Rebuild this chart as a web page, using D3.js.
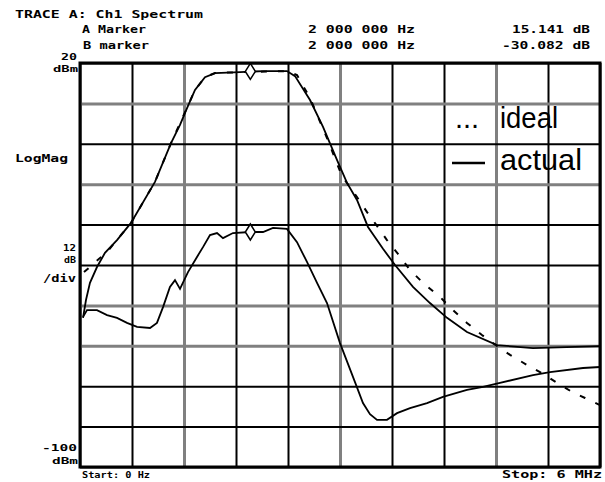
<!DOCTYPE html>
<html>
<head>
<meta charset="utf-8">
<script src="https://cdn.jsdelivr.net/npm/d3@7"></script>
<style>
  html, body { margin: 0; padding: 0; background: #fff; }
  svg { display: block; }
  .hdr { font-family: "DejaVu Sans Mono", monospace; font-weight: bold; font-size: 11px; fill: #000; }
  .sm { font-size: 9px; }
  .leg { font-family: "Liberation Sans", Arial, sans-serif; font-size: 29px; fill: #000; }
</style>
</head>
<body>
<script>
// ---- data (frequency in MHz, level in dBm) ----
const freqStart = 0, freqStop = 6;
const levelTop = 20, levelBottom = -100, dbPerDiv = 12;
const xTicks = [0, 0.6, 1.2, 1.8, 2.4, 3.0, 3.6, 4.2, 4.8, 5.4, 6.0];
const yTicks = [20, 8, -4, -16, -28, -40, -52, -64, -76, -88, -100];
const grayX = [1.2, 3.0, 4.8];
const grayY = [8, -16, -52, -64];

const actualA = [
  [0.035,-55.7],[0.069,-50.4],[0.115,-45.3],[0.196,-40.6],[0.288,-36.4],[0.427,-32.6],
  [0.588,-27.5],[0.865,-15.3],[1.050,-3.8],[1.154,1.6],[1.235,6.6],[1.327,12.0],
  [1.442,15.8],[1.558,17.0],[1.846,17.3],[2.112,17.6],[2.388,17.6],[2.481,16.1],
  [2.654,9.0],[2.804,1.0],[2.965,-8.8],[3.081,-15.6],[3.196,-20.7],[3.323,-28.7],
  [3.496,-35.2],[3.635,-40.0],[3.842,-46.5],[4.038,-51.3],[4.235,-55.7],[4.465,-59.9],
  [4.812,-63.8],[5.227,-64.7],[6.0,-64.1]
];
const idealA = [
  [0.046,-42.1],[0.127,-40.3],[0.323,-35.8],[0.588,-27.5],[0.865,-15.3],[1.050,-3.8],
  [1.212,5.4],[1.327,12.0],[1.442,15.8],[1.558,17.0],[1.846,17.3],[2.388,17.6],
  [2.504,16.4],[2.654,9.6],[2.850,-2.3],[3.023,-13.6],[3.196,-19.8],[3.312,-24.3],
  [3.427,-28.4],[3.542,-32.6],[3.669,-36.7],[3.808,-41.5],[3.958,-45.3],[4.154,-49.5],
  [4.304,-53.4],[4.465,-57.2],[4.638,-60.8],[4.765,-63.2],[4.962,-66.7],[5.158,-69.7],
  [5.308,-71.8],[5.504,-75.0],[5.677,-77.7],[5.827,-79.5],[6.0,-81.6]
];
const actualB = [
  [0.035,-55.4],[0.081,-53.4],[0.196,-53.4],[0.312,-54.9],[0.427,-55.7],[0.542,-57.2],
  [0.658,-58.4],[0.808,-58.7],[0.888,-57.2],[0.958,-52.5],[1.038,-46.5],[1.096,-44.5],
  [1.154,-47.1],[1.246,-42.1],[1.350,-37.6],[1.419,-34.7],[1.5,-31.1],[1.581,-30.5],
  [1.650,-32.0],[1.765,-30.5],[1.962,-30.2],[2.112,-30.2],[2.227,-29.0],[2.388,-29.3],
  [2.504,-33.2],[2.619,-39.1],[2.735,-45.3],[2.850,-51.3],[3.0,-63.2],[3.173,-74.8],
  [3.265,-81.0],[3.346,-84.3],[3.427,-86.0],[3.542,-86.0],[3.658,-84.0],[3.808,-82.5],
  [4.004,-81.0],[4.188,-79.2],[4.465,-77.1],[4.650,-76.2],[4.846,-75.0],[5.227,-72.7],
  [5.423,-71.8],[5.804,-70.6],[6.0,-70.3]
];
const markers = [[2.0, 17.5], [2.0, -30.2]];

const headerTitle = "TRACE A: Ch1 Spectrum";
const markerNames = ["A Marker", "B marker"];
const markerFreqs = ["2 000 000 Hz", "2 000 000 Hz"];
const markerVals = ["15.141 dB", "-30.082 dB"];
const legendLabels = ["ideal", "actual"];

// ---- layout ----
const W = 605, H = 482;
const m = { left: 80, right: 5, top: 63, bottom: 15 };
const pw = W - m.left - m.right, ph = H - m.top - m.bottom;

const svg = d3.select("body").append("svg").attr("width", W).attr("height", H);

const x = d3.scaleLinear().domain([freqStart, freqStop]).range([m.left, m.left + pw]);
const y = d3.scaleLinear().domain([levelBottom, levelTop]).range([m.top + ph, m.top]);

// grid via axes
const isIn = (arr, d) => arr.some(g => Math.abs(g - d) < 1e-6);
const gx = svg.append("g").attr("transform", `translate(0,${m.top + ph})`)
  .call(d3.axisBottom(x).tickValues(xTicks).tickSize(-ph).tickFormat(""));
gx.select(".domain").remove();
gx.selectAll(".tick line")
  .attr("stroke", d => isIn(grayX, d) ? "#808080" : "#000")
  .attr("stroke-width", d => isIn(grayX, d) ? 3 : 2);

const gy = svg.append("g").attr("transform", `translate(${m.left},0)`)
  .call(d3.axisLeft(y).tickValues(yTicks).tickSize(-pw).tickFormat(""));
gy.select(".domain").remove();
gy.selectAll(".tick line")
  .attr("stroke", d => isIn(grayY, d) ? "#808080" : "#000")
  .attr("stroke-width", d => isIn(grayY, d) ? 3 : 2);

// border
svg.append("rect").attr("x", x(freqStart)).attr("y", y(levelTop))
  .attr("width", x(freqStop) - x(freqStart)).attr("height", y(levelBottom) - y(levelTop))
  .attr("fill", "none").attr("stroke", "#000").attr("stroke-width", 3);

// traces
const line = d3.line().x(d => x(d[0])).y(d => y(d[1]));
svg.append("path").datum(idealA).attr("d", line).attr("fill", "none")
  .attr("stroke", "#000").attr("stroke-width", 2).attr("stroke-dasharray", "6,11");
svg.append("path").datum(actualA).attr("d", line).attr("fill", "none")
  .attr("stroke", "#000").attr("stroke-width", 1.8);
svg.append("path").datum(actualB).attr("d", line).attr("fill", "none")
  .attr("stroke", "#000").attr("stroke-width", 1.8);

// markers (diamonds)
svg.selectAll(".mk").data(markers).enter().append("path")
  .attr("d", d => { const cx = x(d[0]) - 3, cy = y(d[1]); return `M${cx},${cy-8}L${cx+5},${cy}L${cx},${cy+8}L${cx-5},${cy}Z`; })
  .attr("fill", "#fff").attr("stroke", "#000").attr("stroke-width", 1.5);

// header texts
function txt(s, px, py, len, anchor, cls) {
  const t = svg.append("text").attr("class", "hdr" + (cls ? " " + cls : "")).attr("x", px).attr("y", py).text(s);
  if (anchor) t.attr("text-anchor", anchor);
  if (len) t.attr("textLength", len).attr("lengthAdjust", "spacingAndGlyphs");
  return t;
}
txt(headerTitle, 15, 18, 188);
txt(markerNames[0], 82, 33, 64);
txt(markerNames[1], 83, 49, 66);
txt(markerFreqs[0], 308, 33, 107);
txt(markerFreqs[1], 308, 49, 107);
txt(markerVals[0], 590, 33, 78, "end");
txt(markerVals[1], 590, 49, 88, "end");
txt(String(levelTop), 77, 60, 16, "end", "sm");
txt("dBm", 78, 72, 25, "end", "sm");
txt("LogMag", 15, 162, 53);
txt(String(dbPerDiv), 76, 251, 13, "end", "sm");
txt("dB", 76, 263, 12, "end", "sm");
txt("/div", 76, 282, 33, "end");
txt(String(levelBottom), 77, 451, 35, "end", "sm");
txt("dBm", 78, 464, 26, "end", "sm");
txt("Start: " + freqStart + " Hz", 82, 478, 68, null, "sm");
txt("Stop: " + freqStop + " MHz", 602, 478, 100, "end");

// legend
svg.append("text").attr("class", "leg").attr("x", 455).attr("y", 128).text("...");
svg.append("text").attr("class", "leg").attr("x", 500).attr("y", 128).text(legendLabels[0])
  .attr("textLength", 58).attr("lengthAdjust", "spacingAndGlyphs");
svg.append("line").attr("x1", 452).attr("x2", 485).attr("y1", 163).attr("y2", 163)
  .attr("stroke", "#000").attr("stroke-width", 2.5);
svg.append("text").attr("class", "leg").attr("x", 500).attr("y", 170).text(legendLabels[1])
  .attr("textLength", 82).attr("lengthAdjust", "spacingAndGlyphs");
</script>
</body>
</html>
